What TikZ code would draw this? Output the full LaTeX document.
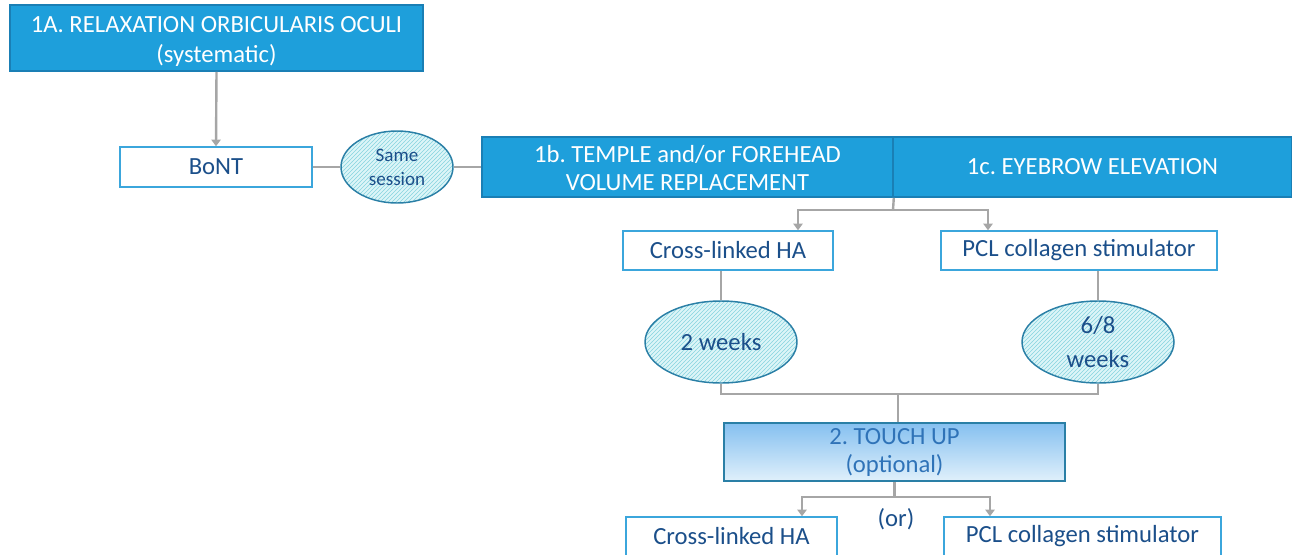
\documentclass[tikz,border=0pt]{standalone}
\usepackage{fontspec}
\setmainfont{Carlito}
\frenchspacing
\usetikzlibrary{shapes.geometric,arrows.meta,patterns,calc}
\definecolor{stepblue}{HTML}{1E9FDB}
\definecolor{stepedge}{HTML}{1A7FB5}
\definecolor{boxedge}{HTML}{3BA6DC}
\definecolor{navytext}{HTML}{1B4F8A}
\definecolor{linkgray}{HTML}{A6A6A6}
\definecolor{hatchfill}{HTML}{DDF5F8}
\definecolor{hatchline}{HTML}{86D3DF}
\definecolor{ovaledge}{HTML}{2A7FA6}
\definecolor{touchtop}{HTML}{85C0F0}
\definecolor{touchbot}{HTML}{E0F0FB}
\definecolor{touchtext}{HTML}{2F73B8}
\tikzset{
    stepbox/.style={rectangle, draw=stepedge, line width=1.2pt, fill=stepblue,
        text=white, align=center, inner sep=0pt,
        font=\fontsize{18.5}{22}\selectfont},
    choicebox/.style={rectangle, draw=boxedge, line width=1.1pt, fill=white,
        text=navytext, align=center, inner sep=0pt,
        font=\fontsize{18.5}{22}\selectfont},
    waitoval/.style={ellipse, draw=ovaledge, line width=1.1pt,
        preaction={fill=hatchfill},
        pattern=north east lines, pattern color=hatchline,
        text=navytext, align=center, inner sep=0pt,
        font=\fontsize{18.5}{25}\selectfont},
    link/.style={draw=linkgray, line width=1.8pt},
    arr/.style={link, -{Triangle[width=7pt,length=5pt]}}
}
\begin{document}
\begin{tikzpicture}[x=0.75pt, y=-0.75pt]
    \useasboundingbox (0,0) rectangle (1292,554);

    % step 1
    \node[stepbox, minimum width=413*0.75pt, minimum height=66*0.75pt,
        text height=36pt, text depth=0pt]
        (relax) at (216.5,38) {1A. RELAXATION ORBICULARIS OCULI\\(systematic)};
    \node[choicebox, minimum width=192*0.75pt, minimum height=40*0.75pt]
        (bont) at (216,167) {BoNT};
    \node[waitoval, minimum width=112*0.75pt, minimum height=72*0.75pt,
        font=\fontsize{14.3}{18}\selectfont]
        (same) at (397,167) {Same\\session};
    \node[stepbox, minimum width=411*0.75pt, minimum height=60*0.75pt,
        font=\fontsize{18.5}{21}\selectfont, text height=34.5pt, text depth=0pt]
        (temple) at (687.5,167) {1b. TEMPLE and/or FOREHEAD\\VOLUME REPLACEMENT};
    \node[stepbox, minimum width=399*0.75pt, minimum height=60*0.75pt]
        (brow) at (1092.5,167) {1c. EYEBROW ELEVATION};

    % products
    \node[choicebox, minimum width=210*0.75pt, minimum height=39*0.75pt]
        (ha1) at (728,250.5) {Cross-linked HA};
    \node[choicebox, minimum width=276*0.75pt, minimum height=39*0.75pt]
        (pcl1) at (1079,250.5) {PCL collagen stimulator};
    \node[waitoval, minimum width=152*0.75pt, minimum height=82*0.75pt]
        (wk2) at (721,342) {2 weeks};
    \node[waitoval, minimum width=152*0.75pt, minimum height=82*0.75pt]
        (wk68) at (1098,342) {6/8\\weeks};

    % step 2
    \node[rectangle, draw=ovaledge, line width=1.2pt,
        top color=touchtop, bottom color=touchbot,
        text=touchtext, align=center, inner sep=0pt,
        minimum width=341*0.75pt, minimum height=58*0.75pt,
        font=\fontsize{18.5}{21}\selectfont, text height=30pt, text depth=0pt]
        (touch) at (894.5,452) {2. TOUCH UP\\(optional)};
    \node[choicebox, minimum width=211*0.75pt, minimum height=39*0.75pt]
        (ha2) at (731.5,536.5) {Cross-linked HA};
    \node[choicebox, minimum width=277*0.75pt, minimum height=39*0.75pt]
        (pcl2) at (1082.5,536.5) {PCL collagen stimulator};
    \node[text=navytext, font=\fontsize{18.5}{22}\selectfont]
        (or) at (896,519) {(or)};

    % connectors
    \coordinate (split1) at (893,210);
    \coordinate (join) at (898,394);
    \coordinate (split2) at (894.5,497);

    \draw[arr] (relax.south) -- (bont.north);
    \draw[link] (bont.east) -- (same.west);
    \draw[link] (same.east) -- (temple.west);
    \draw[link] (temple.south east) -- (split1);
    \draw[arr] (split1) -| ($(ha1.north)+(70,0)$);
    \draw[arr] (split1) -| ($(pcl1.north)+(-91,0)$);
    \draw[link] (ha1.south -| wk2.north) -- (wk2.north);
    \draw[link] (pcl1.south -| wk68.north) -- (wk68.north);
    \draw[link] (wk2.south) |- (join) -| (wk68.south);
    \draw[link] (join) -- (join |- touch.north);
    \draw[link] (touch.south) -- (split2);
    \draw[arr] (split2) -| ($(ha2.north)+(70.5,0)$);
    \draw[arr] (split2) -| ($(pcl2.north)+(-92.5,0)$);
\end{tikzpicture}
\end{document}
